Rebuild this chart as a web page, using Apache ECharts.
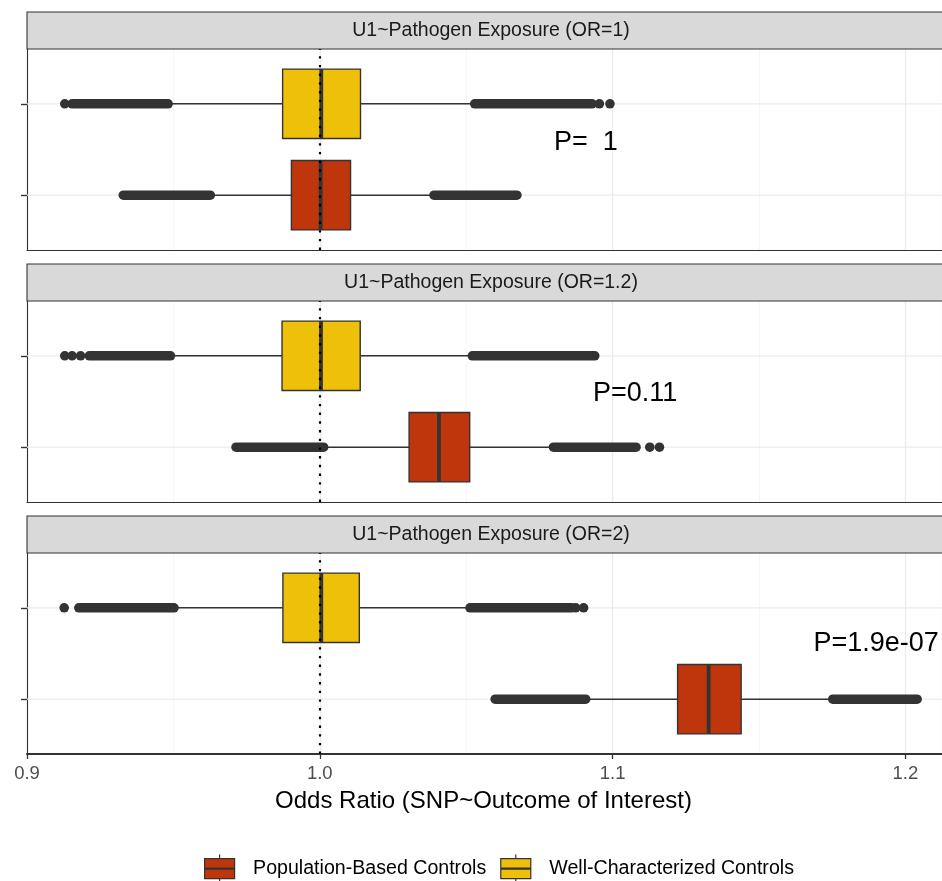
<!DOCTYPE html>
<html>
<head>
<meta charset="utf-8">
<script src="https://cdn.jsdelivr.net/npm/echarts@6/dist/echarts.min.js"></script>
<style>
html,body{margin:0;padding:0;background:#fff;}
#chart{width:942px;height:881px;}
</style>
</head>
<body>
<div id="chart"></div>
<script>
// ---------- data ----------
const panelTitles = ['U1~Pathogen Exposure (OR=1)', 'U1~Pathogen Exposure (OR=1.2)', 'U1~Pathogen Exposure (OR=2)'];
const groups = ['Population-Based Controls', 'Well-Characterized Controls'];
const groupRows = [1, 2]; // Population at bottom row, Well at top row
// box stats per panel: [lower whisker, Q1, median, Q3, upper whisker]
const popStats = [
  [0.9626, 0.9903, 1.0003, 1.0105, 1.0390],
  [1.0013, 1.0305, 1.0407, 1.0512, 1.0798],
  [1.0908, 1.1222, 1.1328, 1.1439, 1.1752]
];
const wellStats = [
  [0.9482, 0.9873, 1.0005, 1.0139, 1.0529],
  [0.9490, 0.9871, 1.0004, 1.0138, 1.0521],
  [0.9502, 0.9874, 1.0005, 1.0135, 1.0513]
];
// dense runs of outlier points per panel: [from, to]
const popOutlierRuns = [
  [[0.9329, 0.9626], [1.0390, 1.0673]],
  [[0.9714, 1.0013], [1.0798, 1.1080]],
  [[1.0599, 1.0908], [1.1752, 1.2040]]
];
const wellOutlierRuns = [
  [[0.9154, 0.9482], [1.0529, 1.0930]],
  [[0.9213, 0.9490], [1.0521, 1.0939]],
  [[0.9177, 0.9502], [1.0513, 1.0860]]
];
// isolated outlier points per panel
const popOutlierPoints = [[], [1.1127, 1.1160], []];
const wellOutlierPoints = [[0.9129, 1.0955, 1.0991], [0.9129, 0.9154, 0.9183], [0.9127, 1.0874, 1.0901]];
// p-value annotations
const pLabels = ['P=  1', 'P=0.11', 'P=1.9e-07'];
const pLabelX = [1.0909, 1.1077, 1.190];
const pLabelY = [1.58, 1.59, 1.61];
const refLineX = 1.0;
const xTitle = 'Odds Ratio (SNP~Outcome of Interest)';
const xMin = 0.9, xMax = 1.2125, xStep = 0.1;

// ---------- layout / style ----------
const FONT = '"Liberation Sans", Arial, Helvetica, sans-serif';
const panelTops = [49, 301, 553];
const panelH = 201;
const stripH = 37;
const gridLeft = 27;
const groupColors = ['#BF360C', '#EEC00A'];
const dark = '#333333';

const chart = echarts.init(document.getElementById('chart'), null, {renderer: 'canvas'});

const grids = [], xAxes = [], yAxes = [], series = [], graphics = [];

function boxRender(color) {
  return function (params, api) {
    const cs = params.coordSys;
    const y = api.value(0);
    const pWL = api.coord([api.value(1), y]);
    const pQ1 = api.coord([api.value(2), y]);
    const pMed = api.coord([api.value(3), y]);
    const pQ3 = api.coord([api.value(4), y]);
    const pWH = api.coord([api.value(5), y]);
    const h = api.size([0, 0.76])[1];
    const cy = pQ1[1];
    return {
      type: 'group',
      children: [
        {type: 'line', shape: {x1: cs.x, y1: cy, x2: cs.x + cs.width, y2: cy}, style: {stroke: '#ebebeb', lineWidth: 1.3}},
        {type: 'line', shape: {x1: pWL[0], y1: cy, x2: pQ1[0], y2: cy}, style: {stroke: dark, lineWidth: 1.6}},
        {type: 'line', shape: {x1: pQ3[0], y1: cy, x2: pWH[0], y2: cy}, style: {stroke: dark, lineWidth: 1.6}},
        {type: 'rect', shape: {x: pQ1[0], y: cy - h / 2, width: pQ3[0] - pQ1[0], height: h}, style: {fill: color, stroke: dark, lineWidth: 1.4}},
        {type: 'line', shape: {x1: pMed[0], y1: cy - h / 2, x2: pMed[0], y2: cy + h / 2}, style: {stroke: dark, lineWidth: 3.8}}
      ]
    };
  };
}

function outlierRender(params, api) {
  const y = api.value(0);
  const a = api.coord([api.value(1), y]);
  const b = api.coord([api.value(2), y]);
  if (api.value(1) === api.value(2)) {
    return {type: 'circle', shape: {cx: a[0], cy: a[1], r: 4.8}, style: {fill: dark}};
  }
  return {type: 'line', shape: {x1: a[0], y1: a[1], x2: b[0], y2: b[1]}, style: {stroke: dark, lineWidth: 9.6, lineCap: 'round'}};
}

for (let i = 0; i < 3; i++) {
  const isBottom = i === 2;
  grids.push({left: gridLeft, right: 0, top: panelTops[i], height: panelH, show: false, containLabel: false});
  xAxes.push({
    type: 'value', gridIndex: i, min: xMin, max: xMax, interval: xStep,
    axisLine: {show: true, onZero: false, lineStyle: {color: dark, width: isBottom ? 2.2 : 1.1}},
    axisTick: {show: isBottom, length: 5, lineStyle: {color: dark, width: 1.3}},
    axisLabel: {show: isBottom, showMaxLabel: false, showMinLabel: true, color: '#4d4d4d', fontSize: 18.5,
      fontFamily: FONT, margin: 10, formatter: v => v.toFixed(1)},
    splitLine: {show: true, lineStyle: {color: '#ebebeb', width: 1.3}},
    minorTick: {show: false, splitNumber: 2},
    minorSplitLine: {show: true, lineStyle: {color: '#f4f4f4', width: 0.8}}
  });
  yAxes.push({
    type: 'value', gridIndex: i, min: 0.4, max: 2.6,
    axisLine: {show: true, onZero: false, lineStyle: {color: dark, width: 1.1}},
    axisLabel: {show: false},
    axisTick: {show: true, length: 6, customValues: groupRows, lineStyle: {color: dark, width: 1.4}},
    splitLine: {show: false}
  });

  const statsArr = [popStats[i], wellStats[i]];
  const runsArr = [popOutlierRuns[i], wellOutlierRuns[i]];
  const ptsArr = [popOutlierPoints[i], wellOutlierPoints[i]];
  for (let g = 0; g < 2; g++) {
    series.push({
      type: 'custom', name: groups[g], xAxisIndex: i, yAxisIndex: i, z: 2,
      itemStyle: {color: groupColors[g]},
      renderItem: boxRender(groupColors[g]),
      encode: {x: [1, 2, 3, 4, 5], y: 0},
      data: [[groupRows[g]].concat(statsArr[g])]
    });
  }
  const outData = [];
  for (let g = 0; g < 2; g++) {
    runsArr[g].forEach(r => outData.push([groupRows[g], r[0], r[1]]));
    ptsArr[g].forEach(p => outData.push([groupRows[g], p, p]));
  }
  series.push({
    type: 'custom', xAxisIndex: i, yAxisIndex: i, z: 3, clip: false,
    renderItem: outlierRender, encode: {x: [1, 2], y: 0}, data: outData
  });
  series.push({
    type: 'line', xAxisIndex: i, yAxisIndex: i, data: [], z: 5, silent: true,
    markLine: {silent: true, symbol: ['none', 'none'], label: {show: false},
      lineStyle: {color: '#000', type: [2.4, 6.3], width: 2.2},
      emphasis: {disabled: true},
      data: [{xAxis: refLineX}]}
  });
  series.push({
    type: 'custom', xAxisIndex: i, yAxisIndex: i, z: 6, clip: false, silent: true,
    encode: {x: 0, y: 1},
    renderItem: function (params, api) {
      const p = api.coord([api.value(0), api.value(1)]);
      return {type: 'text', x: p[0], y: p[1], style: {text: pLabels[i], fontSize: 27, fontFamily: FONT,
        fill: '#000', align: 'center', verticalAlign: 'middle'}};
    },
    data: [[pLabelX[i], pLabelY[i]]]
  });

  graphics.push({type: 'rect', z: 10, shape: {x: gridLeft, y: panelTops[i] - stripH, width: 960, height: stripH},
    style: {fill: '#d9d9d9', stroke: dark, lineWidth: 1.1}});
  graphics.push({type: 'text', z: 11, x: 491, y: panelTops[i] - stripH / 2,
    style: {text: panelTitles[i], fontSize: 19.5, fontFamily: FONT, fill: '#1a1a1a', align: 'center', verticalAlign: 'middle'}});
}

graphics.push({type: 'text', x: 483.5, y: 801,
  style: {text: xTitle, fontSize: 24, fontFamily: FONT, fill: '#000', align: 'center', verticalAlign: 'middle'}});

const legendIcon = 'path://M0,4H30V24H0Z M0,13.5H30 M0,14.5H30 M15,0V4 M15,24V28';

chart.setOption({
  animation: false,
  textStyle: {fontFamily: FONT},
  grid: grids,
  xAxis: xAxes,
  yAxis: yAxes,
  legend: {
    left: 204, top: 854, padding: 0, itemWidth: 31, itemHeight: 28, itemGap: 14,
    selectedMode: false,
    textStyle: {fontSize: 19.6, color: '#000', fontFamily: FONT, padding: [0, 0, 0, 13]},
    data: groups.map((name, g) => ({name: name, icon: legendIcon,
      itemStyle: {color: groupColors[g], borderColor: dark, borderWidth: 1.2}}))
  },
  graphic: graphics,
  series: series
});
</script>
</body>
</html>
